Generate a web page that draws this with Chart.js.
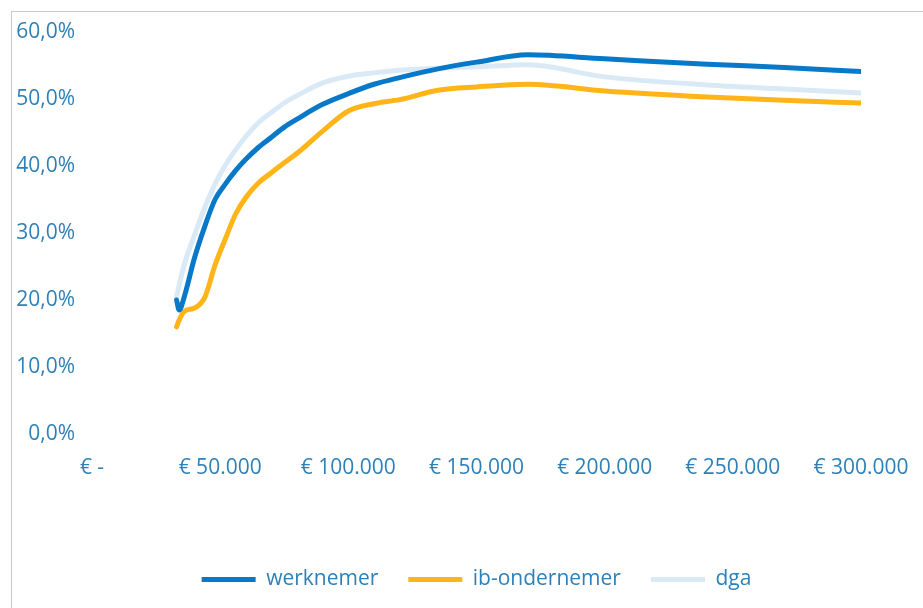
<!DOCTYPE html>
<html lang="nl">
<head>
<meta charset="utf-8">
<script src="https://cdn.jsdelivr.net/npm/chart.js@4/dist/chart.umd.min.js"></script>
<style>
  html, body { margin: 0; padding: 0; background: #ffffff; overflow: hidden; }
  #wrap { position: relative; width: 923px; height: 608px; overflow: hidden; }
  #frame {
    position: absolute; left: 11px; top: 11px; width: 1000px; height: 700px;
    border-left: 1px solid #c8c8c8; border-top: 1px solid #c8c8c8;
  }
  #box { position: absolute; left: 0; top: 0; width: 923px; height: 600px; }
</style>
</head>
<body>
<div id="wrap">
  <div id="frame"></div>
  <div id="box"><canvas id="chart"></canvas></div>
</div>
<script>
// Inkomen (x) en druk in % (y)
const inkomens = [33000, 34000, 36000, 40000, 44000, 48000, 52000, 56000, 60000, 65000, 70000, 75000,
  80000, 90000, 100000, 110000, 120000, 135000, 150000, 170000, 200000, 240000, 270000, 300000];

const werknemer = [20.0, 18.5, 20.5, 26.3, 31.0, 35.0, 37.3, 39.3, 41.0, 42.8, 44.3, 45.8,
  47.0, 49.2, 50.8, 52.2, 53.2, 54.5, 55.5, 56.6, 56.0, 55.2, 54.7, 54.1];

const ibOndernemer = [16.0, 17.0, 18.3, 18.8, 20.4, 25.2, 29.1, 32.8, 35.3, 37.5, 39.0, 40.5,
  41.9, 45.2, 48.2, 49.3, 49.9, 51.3, 51.8, 52.2, 51.2, 50.3, 49.8, 49.4];

const dga = [20.5, 22.2, 25.3, 29.7, 33.8, 37.3, 40.1, 42.4, 44.4, 46.5, 48.0, 49.4,
  50.5, 52.4, 53.4, 53.9, 54.3, 54.6, 54.8, 55.1, 53.3, 52.1, 51.5, 50.9];

const seriesNames = ['werknemer', 'ib-ondernemer', 'dga'];
const seriesColors = ['#0878c8', '#ffb418', '#dae9f6'];

const textColor = '#2e80b8';
const fontFamily = '"Open Sans", "Liberation Sans", sans-serif';
const fontSize = 21;

function toPoints(values) {
  return inkomens.map((x, i) => ({ x, y: values[i] }));
}

function formatEuro(v) {
  if (v === 0) return '€ -';
  return '€ ' + String(v).replace(/\B(?=(\d{3})+(?!\d))/g, '.');
}

function makeDataset(label, values, color) {
  return {
    label,
    data: toPoints(values),
    borderColor: color,
    backgroundColor: color,
    borderWidth: 5,
    borderCapStyle: 'round',
    borderJoinStyle: 'round',
    pointRadius: 0,
    cubicInterpolationMode: 'monotone',
    fill: false,
  };
}

new Chart(document.getElementById('chart'), {
  type: 'line',
  data: {
    datasets: [
      makeDataset(seriesNames[0], werknemer, seriesColors[0]),
      makeDataset(seriesNames[1], ibOndernemer, seriesColors[1]),
      makeDataset(seriesNames[2], dga, seriesColors[2]),
    ],
  },
  options: {
    responsive: true,
    maintainAspectRatio: false,
    animation: false,
    layout: { padding: { top: 32, right: 62, left: 0, bottom: 0 } },
    plugins: {
      tooltip: { enabled: false },
      legend: {
        position: 'bottom',
        fullSize: false,
        labels: {
          color: textColor,
          font: { family: fontFamily, size: fontSize },
          usePointStyle: true,
          pointStyle: 'line',
          pointStyleWidth: 54,
          padding: 30,
        },
      },
    },
    scales: {
      x: {
        type: 'linear',
        min: 0,
        max: 300000,
        // tickLength zorgt voor de ruimte onder de nullijn; de streepjes zelf worden niet getekend
        grid: { display: false, drawTicks: true, tickLength: 21 },
        border: { display: false },
        ticks: {
          stepSize: 50000,
          color: textColor,
          padding: 0,
          maxRotation: 0,
          font: { family: fontFamily, size: fontSize },
          callback: (v) => formatEuro(v),
        },
        afterFit: (scale) => { scale.height = 105; },
      },
      y: {
        min: 0,
        max: 60,
        grid: { display: false, drawTicks: false },
        border: { display: false },
        ticks: {
          stepSize: 10,
          color: textColor,
          padding: 17,
          font: { family: fontFamily, size: fontSize },
          callback: (v) => v.toFixed(1).replace('.', ',') + '%',
        },
        afterFit: (scale) => { scale.width = 92; },
      },
    },
  },
});
</script>
</body>
</html>
